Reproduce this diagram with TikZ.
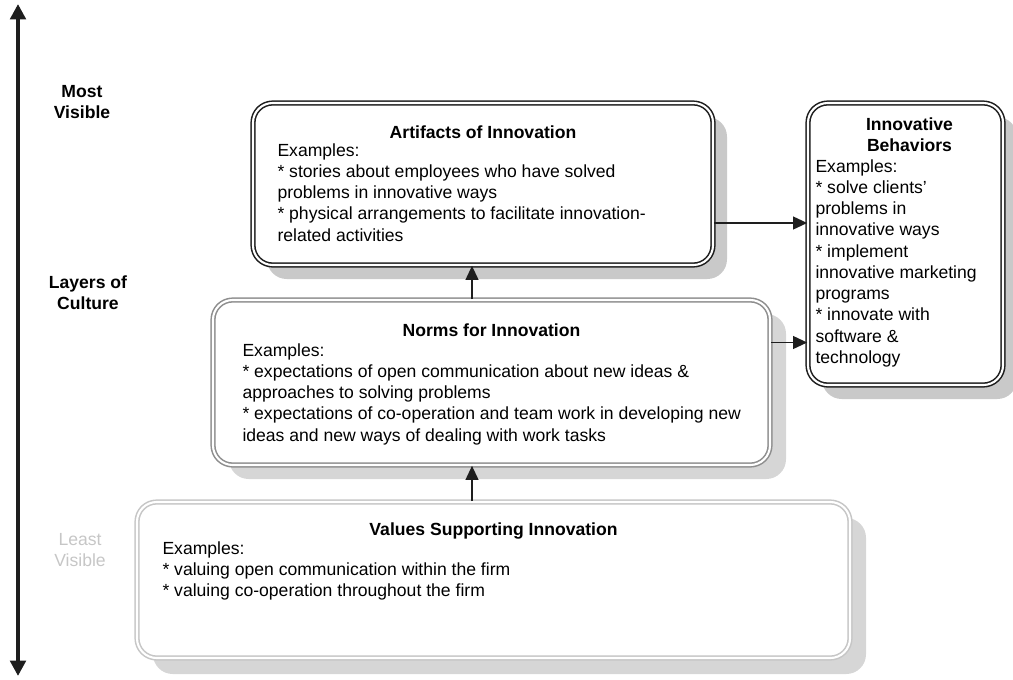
\documentclass[tikz,border=0pt]{standalone}
\usepackage{fontspec}
\setmainfont{Liberation Sans}
\usetikzlibrary{arrows.meta, calc, shadows}
\definecolor{lyrdark}{HTML}{1E1E1E}
\definecolor{lyrmid}{HTML}{8E8E8E}
\definecolor{lyrlight}{HTML}{C6C6C6}
\definecolor{lyrshade}{HTML}{C9C9C9}
\definecolor{lyrshadelt}{HTML}{D6D6D6}
\tikzset{
  cbox/.style={draw=lyrdark, line width=1.1pt, double=white, double distance=1.5pt, rounded corners=14pt, fill=white, inner sep=0pt},
  cart/.style={cbox, drop shadow={shadow xshift=0.35cm, shadow yshift=-0.35cm, fill=lyrshade, opacity=1}},
  cnorm/.style={cbox, draw=lyrmid, drop shadow={shadow xshift=0.4cm, shadow yshift=-0.35cm, fill=lyrshadelt, opacity=1}},
  cval/.style={cbox, draw=lyrlight, drop shadow={shadow xshift=0.4cm, shadow yshift=-0.4cm, fill=lyrshadelt, opacity=1}},
  ctitle/.style={font=\fontsize{12.5}{15.1}\selectfont\bfseries, inner sep=0pt},
  ctext/.style={font=\fontsize{12.5}{15.1}\selectfont, align=left, inner sep=0pt},
  cside/.style={font=\fontsize{12.5}{15.1}\selectfont\bfseries, align=center, inner sep=0pt},
  cflow/.style={-{Triangle[length=10pt, width=9pt]}, line width=1.4pt, lyrdark},
  caxis/.style={{Triangle[length=11pt, width=11pt]}-{Triangle[length=11pt, width=11pt]}, line width=2.8pt, lyrdark},
}

\begin{document}
\begin{tikzpicture}[x=0.025cm, y=-0.025cm]
    \useasboundingbox (0,0) rectangle (1013,679);
    % visibility axis
    \coordinate (axtop) at (18,4);
    \coordinate (axbot) at (18,676);
    \draw[caxis] (axbot) -- (axtop);
    \node[cside] (most) at (82,102) {Most\\Visible};
    \node[cside] (layers) at (88,293) {Layers of\\Culture};
    \node[cside, font=\fontsize{12.5}{15.1}\selectfont, text=lyrlight] (least) at (80,550) {Least\\Visible};

    % the three layers
    \node[cart, minimum width=460*0.025cm, minimum height=162*0.025cm] (art) at (483,184) {};
    \node[ctitle, anchor=base] (arttitle) at ($(art.north)+(0,36)$) {Artifacts of Innovation};
    \node[ctext, anchor=north west] (arttext) at ($(art.north west)+(25,41)$) {Examples:\\
      * stories about employees who have solved\\
      problems in innovative ways\\
      * physical arrangements to facilitate innovation-\\
      related activities};

    \node[cnorm, minimum width=557*0.025cm, minimum height=165*0.025cm] (norm) at (491.5,382.5) {};
    \node[ctitle, anchor=base] (normtitle) at ($(norm.north)+(0,37)$) {Norms for Innovation};
    \node[ctext, anchor=north west] (normtext) at ($(norm.north west)+(30,44)$) {Examples:\\
      * expectations of open communication about new ideas \&\\
      approaches to solving problems\\
      * expectations of co-operation and team work in developing new\\
      ideas and new ways of dealing with work tasks};

    \node[cval, minimum width=713*0.025cm, minimum height=156*0.025cm] (val) at (493.5,580) {};
    \node[ctitle, anchor=base] (valtitle) at ($(val.north)+(0,34)$) {Values Supporting Innovation};
    \node[ctext, anchor=north west] (valtext) at ($(val.north west)+(26,40)$) {Examples:\\
      * valuing open communication within the firm\\
      * valuing co-operation throughout the firm};

    % outcome
    \node[cart, minimum width=195*0.025cm, minimum height=282*0.025cm] (beh) at (905.5,244) {};
    \node[ctitle, align=center, anchor=north] (behtitle) at ($(beh.north)+(4,15)$) {Innovative\\Behaviors};
    \node[ctext, anchor=north west] (behtext) at ($(beh.north west)+(8,57)$) {Examples:\\
      * solve clients'\\
      problems in\\
      innovative ways\\
      * implement\\
      innovative marketing\\
      programs\\
      * innovate with\\
      software \&\\
      technology};

    \coordinate (spine) at (472,0);
    \draw[cflow] (spine |- val.north) -- (spine |- norm.south);
    \draw[cflow] (spine |- norm.north) -- (spine |- art.south);
    \draw[cflow] (art.east) ++(0,39) coordinate (a1) -- (a1 -| beh.west);
    \draw[cflow] (norm.east) ++(0,-40) coordinate (n1) -- (n1 -| beh.west);
  \end{tikzpicture}
\end{document}
